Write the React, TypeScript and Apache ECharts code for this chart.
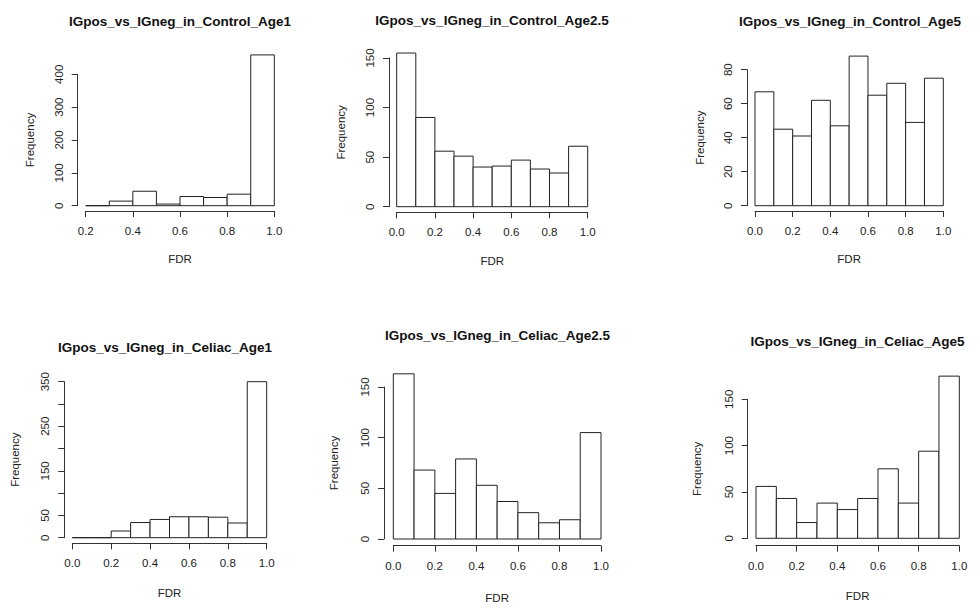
import React, { useEffect, useRef } from "react";
import * as echarts from "echarts";

// ---- data ----
const panelTitles = [
  "IGpos_vs_IGneg_in_Control_Age1",
  "IGpos_vs_IGneg_in_Control_Age2.5",
  "IGpos_vs_IGneg_in_Control_Age5",
  "IGpos_vs_IGneg_in_Celiac_Age1",
  "IGpos_vs_IGneg_in_Celiac_Age2.5",
  "IGpos_vs_IGneg_in_Celiac_Age5",
];

const edgesFrom02 = [0.2, 0.3, 0.4, 0.5, 0.6, 0.7, 0.8, 0.9, 1.0];
const edgesFrom00 = [0.0, 0.1, 0.2, 0.3, 0.4, 0.5, 0.6, 0.7, 0.8, 0.9, 1.0];

const controlAge1Counts = [0, 14, 44, 5, 28, 25, 35, 459];
const controlAge25Counts = [155, 90, 56, 51, 40, 41, 47, 38, 34, 61];
const controlAge5Counts = [67, 45, 41, 62, 47, 88, 65, 72, 49, 75];
const celiacAge1Counts = [0, 0, 15, 34, 41, 47, 47, 46, 33, 350];
const celiacAge25Counts = [163, 68, 45, 79, 53, 37, 26, 16, 19, 105];
const celiacAge5Counts = [56, 43, 17, 38, 31, 43, 75, 38, 94, 175];

const xAxisName = "FDR";
const yAxisName = "Frequency";

// y axis: last tick, tick step, which tick labels are printed
const yTopTicks = [400, 150, 80, 350, 150, 150];
const yTickSteps = [100, 50, 20, 50, 50, 50];
const yShownLabels: number[][] = [
  [0, 100, 200, 300, 400],
  [0, 50, 100, 150],
  [0, 20, 40, 60, 80],
  [0, 50, 150, 250, 350],
  [0, 50, 100, 150],
  [0, 50, 100, 150],
];

const panelEdges = [edgesFrom02, edgesFrom00, edgesFrom00, edgesFrom00, edgesFrom00, edgesFrom00];
const panelCounts = [
  controlAge1Counts,
  controlAge25Counts,
  controlAge5Counts,
  celiacAge1Counts,
  celiacAge25Counts,
  celiacAge5Counts,
];

// ---- layout (pixels) ----
const layouts = [
  { left: 85.7, top: 74.3, width: 188.6, height: 131.4, yOff: 8, xOff: 5.3, tx: 180, ty: 22, yGap: 42, xGap: 42 },
  { left: 396.7, top: 58, width: 191, height: 148.7, yOff: 7.7, xOff: 5.6, tx: 492, ty: 21, yGap: 42, xGap: 43 },
  { left: 755, top: 69.7, width: 188.3, height: 136, yOff: 8, xOff: 5.3, tx: 850, ty: 22, yGap: 41, xGap: 42 },
  { left: 72.3, top: 381.7, width: 194.4, height: 156, yOff: 8, xOff: 5.6, tx: 165, ty: 348, yGap: 43, xGap: 44 },
  { left: 393.3, top: 387, width: 207.7, height: 152, yOff: 9.3, xOff: 6.7, tx: 497.5, ty: 336.7, yGap: 44, xGap: 46 },
  { left: 756, top: 399.3, width: 203.3, height: 139, yOff: 8.3, xOff: 7.4, tx: 857.5, ty: 342.7, yGap: 45, xGap: 44 },
];

const FONT = "'Liberation Sans', Arial, Helvetica, sans-serif";
const AXIS_COLOR = "#333";
const TEXT_COLOR = "#222";

function buildOption() {
  const grids: any[] = [];
  const xAxes: any[] = [];
  const yAxes: any[] = [];
  const series: any[] = [];
  const titles: any[] = [];

  panelTitles.forEach((title, i) => {
    const L = layouts[i];
    const edges = panelEdges[i];
    const counts = panelCounts[i];
    grids.push({ left: L.left, top: L.top, width: L.width, height: L.height, containLabel: false });
    titles.push({
      text: title,
      left: L.tx,
      top: L.ty - 8,
      textAlign: "center",
      padding: 0,
      textStyle: { fontFamily: FONT, fontWeight: "bold", fontSize: 13.5, color: "#111" },
    });
    xAxes.push({
      gridIndex: i,
      type: "value",
      min: edges[0],
      max: 1,
      interval: 0.2,
      offset: L.xOff,
      axisLine: { show: true, onZero: false, lineStyle: { color: AXIS_COLOR, width: 1 } },
      axisTick: { show: true, length: 6, lineStyle: { color: AXIS_COLOR, width: 1 } },
      splitLine: { show: false },
      axisLabel: {
        margin: 14,
        fontSize: 11.5,
        fontFamily: FONT,
        color: TEXT_COLOR,
        formatter: (v: number) => v.toFixed(1),
      },
      name: xAxisName,
      nameLocation: "middle",
      nameGap: L.xGap,
      nameTextStyle: { fontFamily: FONT, fontSize: 11.5, color: TEXT_COLOR },
    });
    const shown = yShownLabels[i];
    yAxes.push({
      gridIndex: i,
      type: "value",
      min: 0,
      max: yTopTicks[i],
      interval: yTickSteps[i],
      offset: L.yOff,
      axisLine: { show: true, onZero: false, lineStyle: { color: AXIS_COLOR, width: 1 } },
      axisTick: { show: true, length: 6, lineStyle: { color: AXIS_COLOR, width: 1 } },
      splitLine: { show: false },
      axisLabel: {
        rotate: 90,
        margin: 13,
        fontSize: 11.5,
        fontFamily: FONT,
        color: TEXT_COLOR,
        formatter: (v: number) => (shown.some((s) => Math.abs(s - v) < 1e-6) ? String(v) : ""),
      },
      name: yAxisName,
      nameLocation: "middle",
      nameRotate: 90,
      nameGap: L.yGap,
      nameTextStyle: { fontFamily: FONT, fontSize: 11.5, color: TEXT_COLOR },
    });
    const data = counts.map((c, k) => [edges[k], edges[k + 1], c]);
    series.push({
      type: "custom",
      xAxisIndex: i,
      yAxisIndex: i,
      clip: false,
      encode: { x: [0, 1], y: 2 },
      data,
      renderItem: (_params: any, api: any) => {
        const x0 = api.value(0);
        const x1 = api.value(1);
        const c = api.value(2);
        const pTop = api.coord([x0, c]);
        const pBot = api.coord([x1, 0]);
        return {
          type: "rect",
          shape: { x: pTop[0], y: pTop[1], width: pBot[0] - pTop[0], height: pBot[1] - pTop[1] },
          style: { fill: "#ffffff", stroke: "#222", lineWidth: 1 },
        };
      },
    });
  });

  return {
    animation: false,
    backgroundColor: "#ffffff",
    title: titles,
    grid: grids,
    xAxis: xAxes,
    yAxis: yAxes,
    series,
  };
}

export default function App() {
  const ref = useRef<HTMLDivElement | null>(null);
  useEffect(() => {
    if (!ref.current) return;
    const chart = echarts.init(ref.current, undefined, { renderer: "svg" });
    chart.setOption(buildOption() as any);
    return () => chart.dispose();
  }, []);
  return (
    <div
      ref={ref}
      style={{ position: "fixed", left: 0, top: 0, width: 980, height: 615, background: "#fff" }}
    />
  );
}
